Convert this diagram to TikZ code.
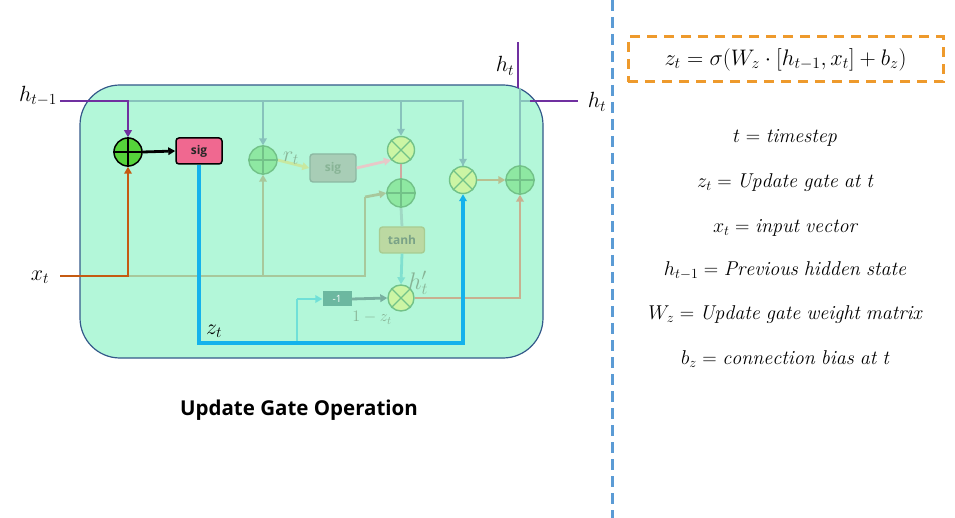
\documentclass[tikz,border=0pt]{standalone}
\usepackage{fix-cm}
\usepackage{fontspec}
\setsansfont{Open Sans}
\usetikzlibrary{arrows.meta}
\definecolor{mint}{HTML}{B3F7D9}
\definecolor{boxedge}{HTML}{34598A}
\definecolor{purp}{HTML}{7030A0}
\definecolor{orng}{HTML}{C55A11}
\definecolor{cyanb}{HTML}{14B2EC}
\definecolor{sigpink}{HTML}{F06890}
\definecolor{gplus}{HTML}{55D43A}
\definecolor{fgray}{HTML}{88C2BC}
\definecolor{folive}{HTML}{A8C89C}
\definecolor{fplus}{HTML}{8EE8A2}
\definecolor{fplusE}{HTML}{72C288}
\definecolor{fmul}{HTML}{CCF5A4}
\definecolor{fsig}{HTML}{A8CDB6}
\definecolor{fsigE}{HTML}{8CB8A2}
\definecolor{ftanh}{HTML}{BCD9A2}
\definecolor{ftanhE}{HTML}{A8CC92}
\definecolor{fminus}{HTML}{6CB8A0}
\definecolor{ftext}{HTML}{88B496}
\definecolor{dashblue}{HTML}{5B9BD5}
\definecolor{dashorange}{HTML}{EE9A2C}
\tikzset{
  lw/.style={line width=2.8pt},
  tip/.style={-{Triangle[length=7pt,width=7.5pt]}},
  gplusnode/.style={circle,draw=black,line width=1.5pt,fill=gplus,minimum size=28pt,inner sep=0pt},
  fplusnode/.style={circle,draw=fplusE,line width=1.4pt,fill=fplus,minimum size=28pt,inner sep=0pt},
  fmulnode/.style={circle,draw=fplusE,line width=1.4pt,fill=fmul,minimum size=27pt,inner sep=0pt},
  sigbox/.style={rectangle,rounded corners=3pt,draw=black,line width=1.5pt,fill=sigpink,minimum width=46pt,minimum height=26pt,font=\sffamily\bfseries\fontsize{12}{14}\selectfont,text=black!85},
  fbox/.style={rectangle,rounded corners=3pt,line width=1.4pt,minimum width=46pt,minimum height=28pt,font=\sffamily\bfseries\fontsize{12}{14}\selectfont},
  lbl/.style={font=\fontsize{22}{26}\selectfont},
  legend/.style={font=\fontsize{20}{24}\selectfont},
}
\newcommand{\pluscross}[2]{\draw[#2,line width=1.4pt] (#1.north)--(#1.south) (#1.west)--(#1.east);}
\newcommand{\mulcross}[2]{\draw[#2,line width=1.4pt] (#1.north east)--(#1.south west) (#1.north west)--(#1.south east);}
\begin{document}
\begin{tikzpicture}[x=1pt,y=-1pt]
\useasboundingbox (0,0) rectangle (955,518);
% cell box
\node[draw=boxedge,line width=1.2pt,fill=mint,rounded corners=40pt,minimum width=463pt,minimum height=273pt,inner sep=0pt] (cell) at (311.5,221.5) {};

% coordinates
\coordinate (hin) at (60,101);
\coordinate (xin) at (60,276);
\coordinate (htop) at (518,42);
\coordinate (hout) at (578,101);

% nodes
\node[gplusnode] (plusA) at (128,152) {};
\node[sigbox] (sigA) at (199,151) {sig};
\node[fplusnode] (plusR) at (263,160) {};
\node[fbox,draw=fsigE,fill=fsig,text=ftext] (sigB) at (333,168) {sig};
\node[fmulnode] (mulA) at (401,150) {};
\node[fplusnode] (plusB) at (401,193) {};
\node[fbox,draw=ftanhE,fill=ftanh,text=ftext!90!black,minimum width=45pt,minimum height=26pt] (tanh) at (402,240) {tanh};
\node[fmulnode,minimum size=26pt] (mulH) at (401,298) {};
\node[rectangle,fill=fminus,minimum width=29pt,minimum height=15pt,inner sep=0pt,font=\sffamily\fontsize{10}{12}\selectfont,text=white] (minus) at (337,299) {-1};
\node[fmulnode] (mulZ) at (463,180) {};
\node[fplusnode] (plusO) at (520,180) {};

% faded connections
\draw[lw,fgray] (128,101) -- (463,101) -- (mulZ.north);
\draw[lw,fgray,tip] (463,120) -- (mulZ.north);
\draw[lw,fgray,tip] (263,101) -- (plusR.north);
\draw[lw,fgray,tip] (401,101) -- (mulA.north);
\draw[lw,folive] (128,276) -- (365,276) -- (365,197);
\draw[lw,folive,tip] (365,197) -- (plusB.west);
\draw[lw,folive,tip] (263,276) -- (plusR.south);
\draw[lw,color={rgb,255:red,200;green,232;blue,160},tip] (plusR.east) -- (sigB.west);
\draw[lw,color={rgb,255:red,232;green,200;blue,200},tip] (sigB.east) -- (mulA.south west);
\draw[lw,color={rgb,255:red,208;green,168;blue,160}] (mulA.south) -- (plusB.north);
\draw[lw,color={rgb,255:red,160;green,216;blue,196}] (plusB.south) -- (tanh.north);
\draw[lw,color={rgb,255:red,128;green,224;blue,208},tip] (tanh.south) -- (mulH.north);
\draw[lw,color={rgb,255:red,112;green,224;blue,216}] (297,343) -- (297,299);
\draw[lw,color={rgb,255:red,112;green,224;blue,216},tip] (297,299) -- (minus.west);
\draw[lw,color={rgb,255:red,120;green,176;blue,160},tip] (minus.east) -- (mulH.west);
\draw[lw,color={rgb,255:red,200;green,176;blue,144}] (mulH.east) -- (520,298) -- (520,270);
\draw[lw,color={rgb,255:red,200;green,176;blue,144},tip] (520,270) -- (plusO.south);
\draw[lw,color={rgb,255:red,184;green,192;blue,144},tip] (mulZ.east) -- (plusO.west);
\draw[lw,fgray] (plusO.north) -- (520,88);
\draw[lw,fgray] (520,101) -- (530,101);

% crosses inside circles
\pluscross{plusA}{black}
\pluscross{plusR}{fplusE}
\pluscross{plusB}{fplusE}
\pluscross{plusO}{fplusE}
\mulcross{mulA}{fplusE}
\mulcross{mulH}{fplusE}
\mulcross{mulZ}{fplusE}

% bright connections
\draw[lw,purp] (hin) -- (128,101) -- (128,125);
\draw[lw,purp,tip] (128,120) -- (plusA.north);
\draw[lw,orng] (xin) -- (128,276) -- (128,185);
\draw[lw,orng,tip] (128,190) -- (plusA.south);
\draw[lw,black,tip] (plusA.east) -- (sigA.west);
\draw[line width=3.2pt,cyanb] (sigA.south) -- (199,343) -- (463,343) -- (463,215);
\draw[line width=3.2pt,cyanb,tip] (463,220) -- (mulZ.south);
\draw[lw,purp] (518,88) -- (htop);
\draw[lw,purp] (530,101) -- (hout);

% labels
\node[lbl] (lh) at (38,96) {$h_{t-1}$};
\node[lbl] (lx) at (40,277) {$x_t$};
\node[lbl] (lz) at (214,331) {$z_t$};
\node[lbl] (lht) at (505,66) {$h_t$};
\node[lbl] (lho) at (597,102) {$h_t$};
\node[lbl,text=ftext] (lr) at (291,158) {$r_t$};
\node[font=\fontsize{24}{28}\selectfont,text=ftext] (lhp) at (418,283) {$h'_t$};
\node[font=\fontsize{16}{19}\selectfont,text=ftext] (lmz) at (372,318) {$1-z_t$};

% title
\node[font=\sffamily\bfseries\fontsize{20.5}{24}\selectfont] (title) at (299,410) {Update Gate Operation};

% right side
\draw[dashblue,line width=3pt,dash pattern=on 11pt off 6pt] (612,0) -- (612,518);
\node[draw=dashorange,line width=3pt,dash pattern=on 10pt off 7pt,minimum width=315pt,minimum height=45pt] (formula) at (785.5,59.5) {\fontsize{22.5}{26}\selectfont$z_t = \sigma(W_z\cdot[h_{t-1},x_t]+b_z)$};
\node[legend] (l1) at (785,138) {$t = \mathit{timestep}$};
\node[legend] (l2) at (785,183) {$z_t = \mathit{Update\ gate\ at\ t}$};
\node[legend] (l3) at (785,228) {$x_t = \mathit{input\ vector}$};
\node[legend] (l4) at (785,271) {$h_{t-1} = \mathit{Previous\ hidden\ state}$};
\node[legend] (l5) at (785,315) {$W_z = \mathit{Update\ gate\ weight\ matrix}$};
\node[legend] (l6) at (785,359) {$b_z = \mathit{connection\ bias\ at\ t}$};
\end{tikzpicture}
\end{document}
